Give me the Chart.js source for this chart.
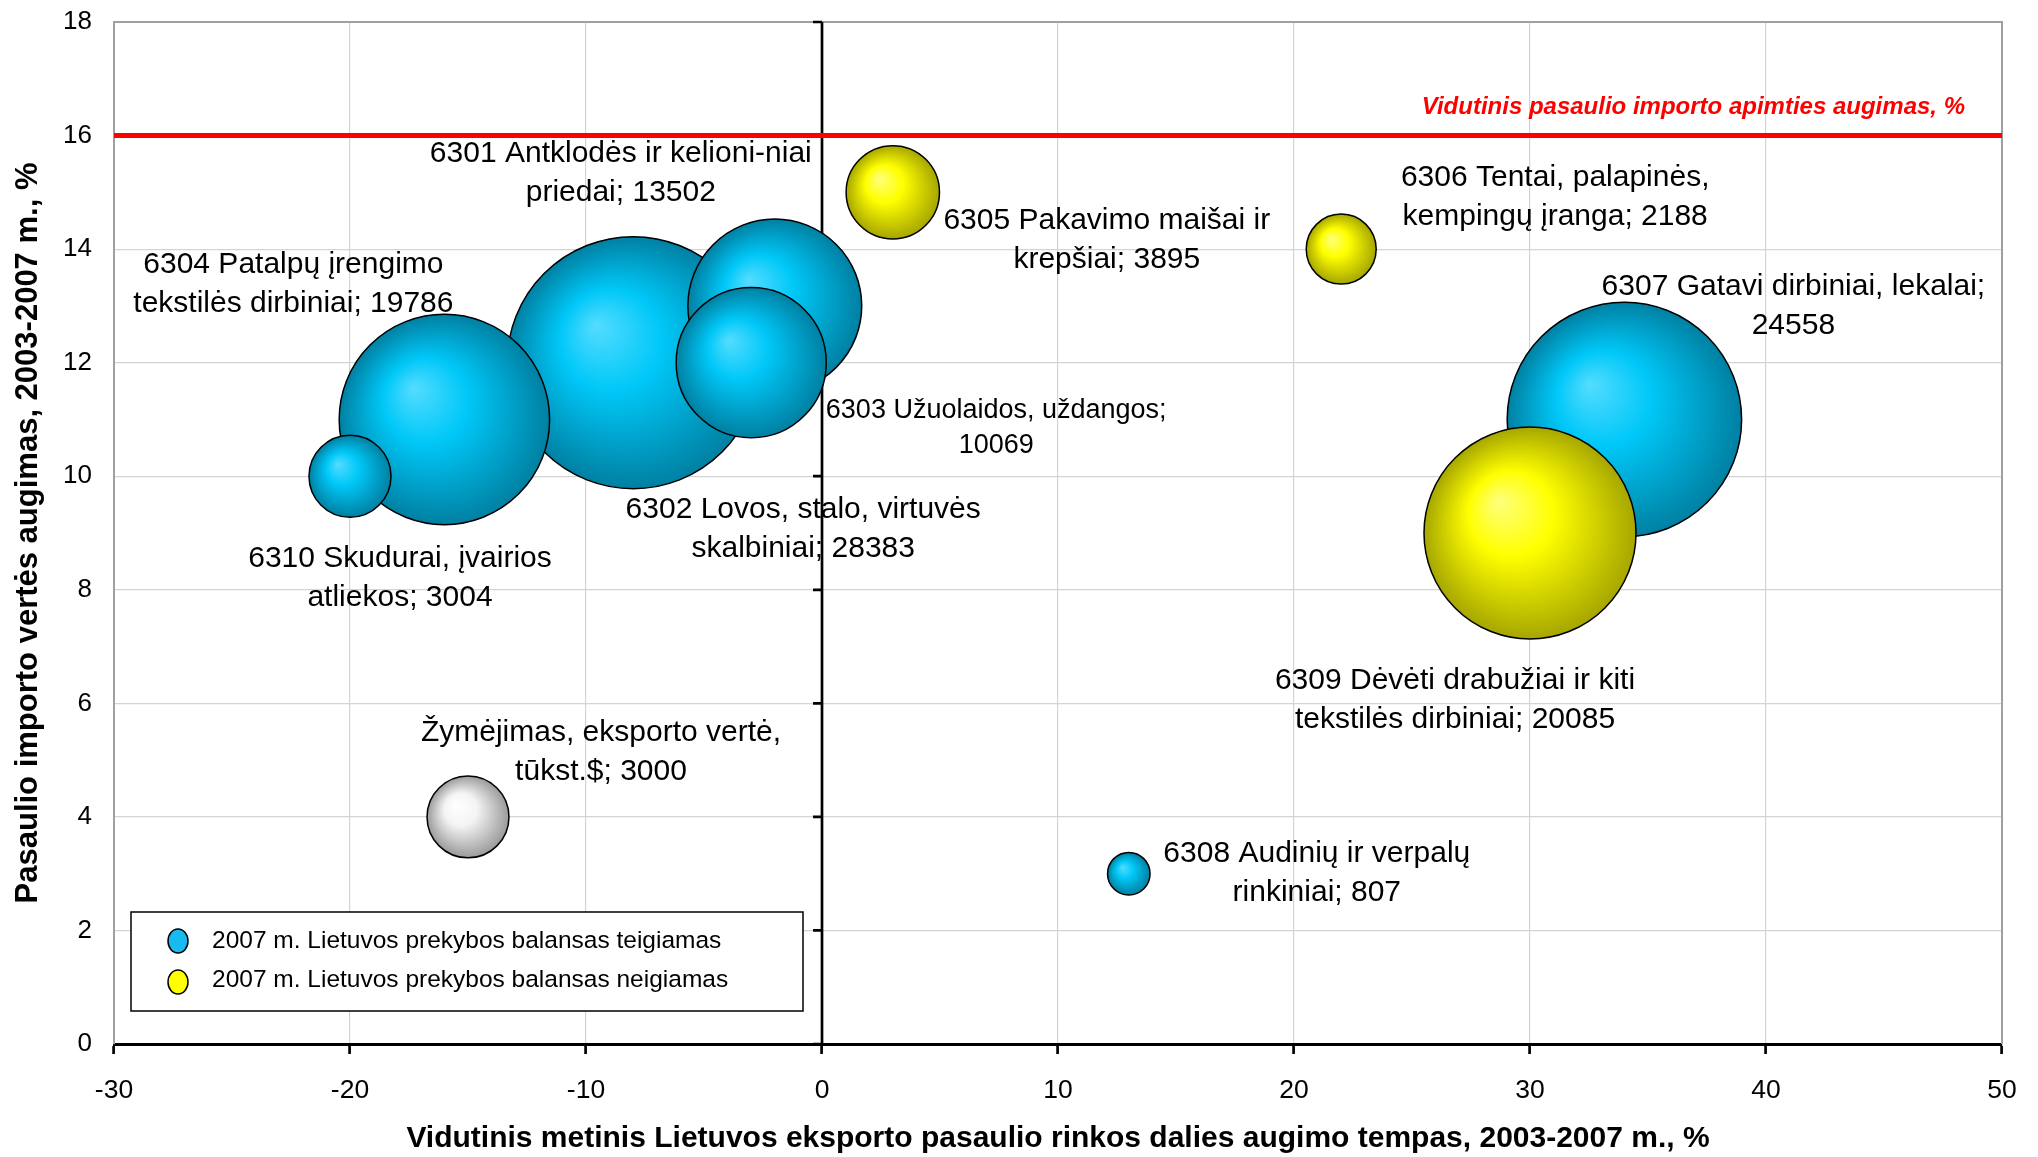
<!DOCTYPE html>
<html>
<head>
<meta charset="utf-8">
<script src="https://cdn.jsdelivr.net/npm/chart.js@4.4.0/dist/chart.umd.min.js"></script>
<style>
  html, body { margin: 0; padding: 0; background: #ffffff; }
  #wrap { width: 2038px; height: 1157px; position: relative; }
</style>
</head>
<body>
<div id="wrap"><canvas id="bubbleChart"></canvas></div>
<script>
// Product groups (draw order = array order, later ones on top)
const codes = ['6302', '6304', '6310', '6301', '6303', '6307', '6308', '6305', '6306', '6309'];
const labelLines = [
  ['6302 Lovos, stalo, virtuvės', 'skalbiniai; 28383'],
  ['6304 Patalpų įrengimo', 'tekstilės dirbiniai; 19786'],
  ['6310 Skudurai, įvairios', 'atliekos; 3004'],
  ['6301 Antklodės ir kelioni-niai', 'priedai; 13502'],
  ['6303 Užuolaidos, uždangos;', '10069'],
  ['6307 Gatavi dirbiniai, lekalai;', '24558'],
  ['6308 Audinių ir verpalų', 'rinkiniai; 807'],
  ['6305 Pakavimo maišai ir', 'krepšiai; 3895'],
  ['6306 Tentai, palapinės,', 'kempingų įranga; 2188'],
  ['6309 Dėvėti drabužiai ir kiti', 'tekstilės dirbiniai; 20085']
];
// x: export market share growth, y: world import value growth, value: export, thous. $
const exportShareGrowth = [-8, -16, -20, -2, -3, 34, 13, 3, 22, 30];
const importValueGrowth = [12, 11, 10, 13, 12, 11, 3, 15, 14, 9];
const exportValue = [28383, 19786, 3004, 13502, 10069, 24558, 807, 3895, 2188, 20085];
const balancePositive = [true, true, true, true, true, true, true, false, false, false];

// size key bubble
const keyLines = ['Žymėjimas, eksporto vertė,', 'tūkst.$; 3000'];
const keyX = [-15];
const keyY = [4];
const keyValue = [3000];

const avgWorldImportGrowth = 16;
const avgLineLabel = 'Vidutinis pasaulio importo apimties augimas, %';

const xTicks = [-30, -20, -10, 0, 10, 20, 30, 40, 50];
const yTicks = [0, 2, 4, 6, 8, 10, 12, 14, 16, 18];

const legendNames = ['2007 m. Lietuvos prekybos balansas teigiamas', '2007 m. Lietuvos prekybos balansas neigiamas'];
const xTitle = 'Vidutinis metinis Lietuvos eksporto pasaulio rinkos dalies augimo tempas, 2003-2007 m., %';
const yTitle = 'Pasaulio importo vertės augimas, 2003-2007 m., %';

// label placement, pixel offset of text centre from bubble centre
const labelOffsets = [[170, 167], [-151, -135], [50, 102], [-154, -133], [245, 65], [169, -113], [188, 0], [214, 48], [214, -52], [-75, 167]];
const keyOffset = [133, -65];

const FONT = "'Liberation Sans', Arial, sans-serif";
const sizeK = 0.748; // bubble radius px per sqrt(value)

function bubble(i) {
  return { x: exportShareGrowth[i], y: importValueGrowth[i], r: sizeK * Math.sqrt(exportValue[i]), idx: i };
}

// radial gradient fill following the bubble
function bubbleFill(stops) {
  return (c) => {
    const chart = c.chart;
    const raw = c.raw;
    if (!raw || !chart.scales.x || !chart.scales.y) return stops[1];
    const cx = chart.scales.x.getPixelForValue(raw.x);
    const cy = chart.scales.y.getPixelForValue(raw.y);
    const r = raw.r;
    if (!isFinite(cx) || !isFinite(cy) || !isFinite(r)) return stops[1];
    const g = chart.ctx.createRadialGradient(cx - r * 0.3, cy - r * 0.3, 0, cx, cy, r);
    g.addColorStop(0, stops[0]);
    g.addColorStop(0.4, stops[1]);
    g.addColorStop(1, stops[2]);
    return g;
  };
}

const blueStops = ['#55dcff', '#00c8f8', '#0080a2'];
const yellowStops = ['#ffff80', '#ffff00', '#a6a600'];
const greyStops = ['#ffffff', '#f4f4f4', '#9a9a9a'];

const positiveData = [];
const negativeData = [];
codes.forEach((c, i) => (balancePositive[i] ? positiveData : negativeData).push(bubble(i)));
const keyData = keyX.map((x, i) => ({ x: x, y: keyY[i], r: sizeK * Math.sqrt(keyValue[i]), idx: -1 }));

// extra drawing: axis at x=0, red average line, frame, labels, legend box
const decorations = {
  id: 'decorations',
  beforeDatasetsDraw(chart) {
    const { ctx, chartArea: a, scales: { x, y } } = chart;
    ctx.save();
    // gray frame top/right
    ctx.strokeStyle = '#a0a0a0';
    ctx.lineWidth = 2;
    ctx.beginPath();
    ctx.moveTo(a.left, a.top);
    ctx.lineTo(a.right, a.top);
    ctx.lineTo(a.right, a.bottom);
    ctx.stroke();
    // vertical axis at 0
    const x0 = x.getPixelForValue(0);
    ctx.strokeStyle = '#000000';
    ctx.lineWidth = 2.7;
    ctx.beginPath();
    ctx.moveTo(x0, a.top);
    ctx.lineTo(x0, a.bottom);
    yTicks.forEach(v => {
      const py = y.getPixelForValue(v);
      ctx.moveTo(x0 - 9, py);
      ctx.lineTo(x0, py);
    });
    ctx.stroke();
    // average world import growth
    const yl = y.getPixelForValue(avgWorldImportGrowth);
    ctx.strokeStyle = '#ff0000';
    ctx.lineWidth = 5;
    ctx.beginPath();
    ctx.moveTo(a.left, yl);
    ctx.lineTo(a.right, yl);
    ctx.stroke();
    ctx.fillStyle = '#ff0000';
    ctx.font = 'italic bold 24px ' + FONT;
    ctx.textAlign = 'right';
    ctx.textBaseline = 'middle';
    ctx.fillText(avgLineLabel, a.right - 37, yl - 28);
    ctx.restore();
  },
  afterDatasetsDraw(chart) {
    const { ctx, scales: { x, y } } = chart;
    ctx.save();
    ctx.fillStyle = '#000000';
    ctx.textAlign = 'center';
    ctx.textBaseline = 'middle';
    const drawLabel = (lines, px, py, size, lh) => {
      ctx.font = size + 'px ' + FONT;
      lines.forEach((t, k) => ctx.fillText(t, px, py + (k - (lines.length - 1) / 2) * lh));
    };
    codes.forEach((c, i) => {
      const px = x.getPixelForValue(exportShareGrowth[i]) + labelOffsets[i][0];
      const py = y.getPixelForValue(importValueGrowth[i]) + labelOffsets[i][1];
      if (c === '6303') drawLabel(labelLines[i], px, py, 27, 35);
      else drawLabel(labelLines[i], px, py, 30, 39);
    });
    drawLabel(keyLines, x.getPixelForValue(keyX[0]) + keyOffset[0], y.getPixelForValue(keyY[0]) + keyOffset[1], 30, 39);
    ctx.restore();
  },
  afterDraw(chart) {
    const { ctx, chartArea: a } = chart;
    const bx = a.left + 17, by = a.bottom - 132, bw = 672, bh = 99;
    ctx.save();
    ctx.fillStyle = '#ffffff';
    ctx.fillRect(bx, by, bw, bh);
    ctx.strokeStyle = '#000000';
    ctx.lineWidth = 1.5;
    ctx.strokeRect(bx, by, bw, bh);
    const colors = ['#19baf2', '#ffff00'];
    ctx.font = '24.5px ' + FONT;
    ctx.textAlign = 'left';
    ctx.textBaseline = 'middle';
    legendNames.forEach((name, k) => {
      const ry = by + 29 + k * 39;
      ctx.beginPath();
      ctx.ellipse(bx + 47, ry + (k ? 2 : 0), 10, 12, 0, 0, Math.PI * 2);
      ctx.fillStyle = colors[k];
      ctx.fill();
      ctx.lineWidth = 1.5;
      ctx.strokeStyle = '#000000';
      ctx.stroke();
      ctx.fillStyle = '#000000';
      ctx.fillText(name, bx + 81, ry);
    });
    ctx.restore();
  }
};

const chart = new Chart(document.getElementById('bubbleChart').getContext('2d'), {
  type: 'bubble',
  data: {
    datasets: [
      { label: 'key', data: keyData, backgroundColor: bubbleFill(greyStops), borderColor: '#000000', borderWidth: 1.5, order: 0 },
      { label: legendNames[1], data: negativeData, backgroundColor: bubbleFill(yellowStops), borderColor: '#000000', borderWidth: 1.5, order: 1 },
      { label: legendNames[0], data: positiveData, backgroundColor: bubbleFill(blueStops), borderColor: '#000000', borderWidth: 1.5, order: 2 }
    ]
  },
  options: {
    responsive: true,
    maintainAspectRatio: false,
    animation: false,
    events: [],
    locale: 'en-US',
    layout: { autoPadding: false, padding: { top: 22, right: 36, left: 0, bottom: 0 } },
    plugins: {
      legend: { display: false },
      tooltip: { enabled: false }
    },
    scales: {
      x: {
        type: 'linear',
        min: -30,
        max: 50,
        afterBuildTicks: s => { s.ticks = xTicks.map(v => ({ value: v })); },
        afterFit: s => { s.height = 113; s.paddingLeft = 0; s.paddingRight = 0; },
        grid: { color: '#d4d4d4', lineWidth: 1.2, tickColor: '#000000', tickWidth: 2.7, tickLength: 10 },
        border: { color: '#000000', width: 3 },
        ticks: { color: '#000000', font: { family: FONT, size: 26.5 }, padding: 21, maxRotation: 0 },
        title: { display: true, text: xTitle, color: '#000000', font: { family: FONT, size: 30, weight: 'bold' }, padding: { top: 0, bottom: 0 } }
      },
      y: {
        type: 'linear',
        min: 0,
        max: 18,
        afterBuildTicks: s => { s.ticks = yTicks.map(v => ({ value: v })); },
        afterFit: s => { s.width = 114; s.paddingTop = 0; s.paddingBottom = 0; },
        grid: { color: '#d4d4d4', lineWidth: 1.2, drawTicks: false },
        border: { color: '#a0a0a0', width: 2 },
        ticks: { color: '#000000', font: { family: FONT, size: 26 }, padding: 22 },
        title: { display: true, text: yTitle, color: '#000000', font: { family: FONT, size: 31, weight: 'bold' }, padding: { top: 10, bottom: 0 } }
      }
    }
  },
  plugins: [decorations]
});
</script>
</body>
</html>
